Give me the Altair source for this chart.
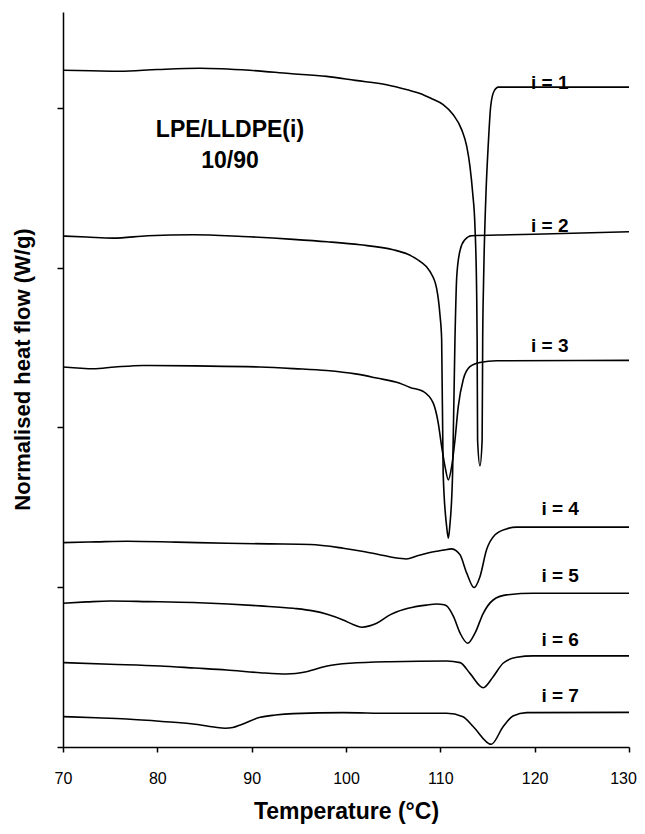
import altair as alt
import pandas as pd

# ---- curve data (Temperature in C, normalised heat flow in arbitrary offset units) ----
T1 = [70.0, 73.0, 76.0, 80.0, 84.5, 89.8, 94.0, 97.95, 101.0, 104.3, 106.5, 107.85, 109.0, 110.3,
      111.37, 112.26, 112.8, 113.14, 113.43, 113.67, 113.85, 113.9, 113.95, 114.2, 114.43, 114.49,
      114.58, 114.63, 114.84, 115.09, 115.34, 115.69, 116.15, 120.0, 125.0, 130.0]
H1 = [4.235, 4.232, 4.229, 4.240, 4.248, 4.235, 4.215, 4.197, 4.172, 4.145, 4.113, 4.090, 4.060, 4.020,
      3.957, 3.864, 3.759, 3.634, 3.467, 3.258, 2.84, 2.55, 1.92, 1.76, 1.92, 2.55,
      2.90, 3.05, 3.467, 3.78, 4.01, 4.104, 4.13, 4.13, 4.13, 4.13]

T2 = [70.0, 72.5, 75.3, 79.0, 83.8, 89.0, 94.4, 98.0, 101.5, 105.0, 106.5, 107.85, 108.9, 109.6,
      109.96, 110.14, 110.3, 110.67, 110.85, 111.0, 111.3, 111.55, 111.74, 112.1, 112.6, 113.3,
      117.4, 124.0, 130.0]
H2 = [3.198, 3.192, 3.185, 3.200, 3.206, 3.195, 3.177, 3.162, 3.143, 3.112, 3.085, 3.039, 2.976, 2.872,
      2.705, 2.55, 1.714, 1.38, 1.307, 1.38, 1.714, 2.55, 2.945, 3.11, 3.175, 3.20,
      3.206, 3.215, 3.225]

T3 = [70.0, 71.5, 73.2, 75.5, 78.5, 84.0, 90.9, 94.5, 97.95, 101.0, 103.25, 105.7, 106.8, 108.2,
      109.25, 109.78, 110.14, 110.5, 110.85, 111.2, 111.55, 111.9, 112.43, 113.14, 114.2, 115.97, 130.0]
H3 = [2.378, 2.372, 2.367, 2.378, 2.388, 2.385, 2.378, 2.368, 2.356, 2.335, 2.309, 2.277, 2.250, 2.225,
      2.152, 2.027, 1.88, 1.755, 1.672, 1.755, 1.92, 2.13, 2.30, 2.38, 2.406, 2.417, 2.42]

T4 = [70.0, 73.5, 76.8, 82.0, 87.4, 92.0, 96.2, 99.7, 102.0, 104.0, 105.2, 106.4, 107.5, 108.9,
      110.3, 111.2, 111.7, 112.1, 112.8, 113.57, 114.2, 114.9, 115.8, 117.0, 118.1, 130.0]
H4 = [1.279, 1.284, 1.288, 1.282, 1.275, 1.271, 1.267, 1.244, 1.222, 1.198, 1.184, 1.177, 1.195, 1.217,
      1.232, 1.240, 1.228, 1.202, 1.088, 0.998, 1.066, 1.234, 1.328, 1.365, 1.376, 1.376]

T5 = [70.0, 72.5, 75.0, 79.0, 83.8, 87.5, 90.9, 94.4, 96.5, 98.0, 99.7, 100.8, 101.66, 102.5,
      103.25, 104.66, 105.4, 107.1, 108.5, 109.6, 110.4, 110.67, 111.4, 112.1, 112.9, 113.67,
      114.55, 115.6, 117.0, 119.86, 130.0]
H5 = [0.900, 0.908, 0.914, 0.910, 0.904, 0.895, 0.883, 0.868, 0.852, 0.831, 0.795, 0.765, 0.749, 0.758,
      0.775, 0.827, 0.847, 0.875, 0.888, 0.895, 0.890, 0.883, 0.816, 0.712, 0.649, 0.712,
      0.837, 0.920, 0.952, 0.962, 0.962]

T6 = [70.0, 75.0, 80.3, 84.0, 87.35, 90.9, 93.7, 95.8, 98.0, 100.4, 104.66, 110.67, 112.1, 113.14,
      114.55, 115.6, 116.65, 118.1, 119.86, 130.0]
H6 = [0.528, 0.518, 0.507, 0.494, 0.482, 0.465, 0.457, 0.471, 0.507, 0.524, 0.534, 0.538, 0.528, 0.461,
      0.371, 0.440, 0.524, 0.562, 0.570, 0.570]

T7 = [70.0, 73.5, 76.75, 80.5, 83.8, 86.0, 87.2, 88.0, 88.8, 90.9, 92.5, 94.4, 99.7, 104.66, 110.67,
      112.4, 113.5, 115.4, 116.65, 117.7, 119.15, 130.0]
H7 = [0.190, 0.183, 0.175, 0.160, 0.144, 0.125, 0.117, 0.122, 0.138, 0.186, 0.200, 0.209, 0.215, 0.211, 0.211,
      0.190, 0.127, 0.017, 0.127, 0.194, 0.215, 0.217]

CURVE_NAMES = ["i = 1", "i = 2", "i = 3", "i = 4", "i = 5", "i = 6", "i = 7"]
LABEL_T = [121.6, 121.6, 121.6, 122.7, 122.7, 122.7, 122.7]
LABEL_H = [4.155, 3.258, 2.507, 1.49, 1.07, 0.67, 0.32]

NOTE_LINES = ["LPE/LLDPE(i)", "10/90"]
NOTE_T = [87.7, 87.7]
NOTE_H = [3.86, 3.666]

X_TICKS = [70, 80, 90, 100, 110, 120, 130]
Y_TICKS = [0, 1, 2, 3, 4]

# ---- build tables ----
rows = []
for name, T, H in zip(CURVE_NAMES, [T1, T2, T3, T4, T5, T6, T7], [H1, H2, H3, H4, H5, H6, H7]):
    for t, h in zip(T, H):
        rows.append({"curve": name, "T": t, "H": h})
df = pd.DataFrame(rows)
lab_df = pd.DataFrame({"label": CURVE_NAMES, "T": LABEL_T, "H": LABEL_H})
note_df = pd.DataFrame({"label": NOTE_LINES, "T": NOTE_T, "H": NOTE_H})

FONT = "Liberation Sans"

x_enc = alt.X(
    "T:Q",
    scale=alt.Scale(domain=[70, 130], nice=False, zero=False),
    axis=alt.Axis(
        values=X_TICKS, title="Temperature (°C)", grid=False, labelFlush=False,
        labelOffset={"condition": {"test": "datum.value === 130", "value": -6}, "value": 0},
        domainColor="black", domainWidth=1.5, tickColor="black", tickWidth=1.5, tickSize=5,
        labelFont=FONT, labelFontSize=16, labelColor="black", labelPadding=18,
        titleFont=FONT, titleFontSize=23, titleFontWeight="bold", titleColor="black", titlePadding=14,
    ),
)
y_enc = alt.Y(
    "H:Q",
    scale=alt.Scale(domain=[0, 4.6], nice=False, zero=False),
    axis=alt.Axis(
        values=Y_TICKS, labels=False, title="Normalised heat flow (W/g)", grid=False,
        domainColor="black", domainWidth=1.5, tickColor="black", tickWidth=1.5, tickSize=6,
        titleFont=FONT, titleFontSize=22, titleFontWeight="bold", titleColor="black", titlePadding=22,
        titleY=357,
    ),
)

lines = alt.Chart(df).mark_line(color="black", strokeWidth=1.6, interpolate="monotone").encode(
    x=x_enc, y=y_enc, detail="curve:N"
)

labels = alt.Chart(lab_df).mark_text(
    font=FONT, fontSize=19, fontWeight="bold", color="black", align="center", baseline="middle"
).encode(x="T:Q", y="H:Q", text="label:N")

notes = alt.Chart(note_df).mark_text(
    font=FONT, fontSize=23, fontWeight="bold", color="black", align="center", baseline="middle"
).encode(x="T:Q", y="H:Q", text="label:N")

chart = (
    alt.layer(lines, labels, notes)
    .properties(
        width=566, height=735,
        autosize=alt.AutoSizeParams(type="none"),
        padding={"left": 55, "top": 4, "right": 8, "bottom": 79},
        background="white",
    )
    .configure_view(stroke=None)
)

chart.save("out.html", embed_options={"renderer": "svg", "actions": False})
